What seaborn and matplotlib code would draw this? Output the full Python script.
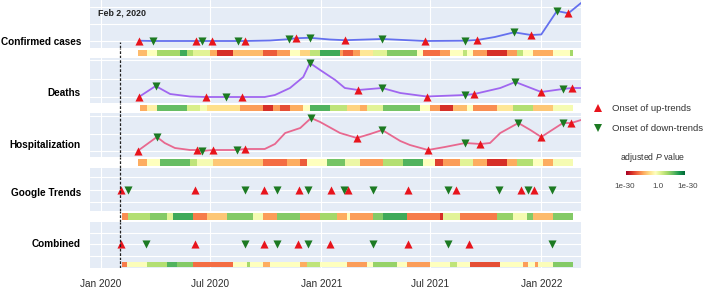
import matplotlib
matplotlib.use("Agg")
import matplotlib.dates as mdates
import matplotlib.pyplot as plt
from matplotlib.lines import Line2D
import numpy as np
import pandas as pd
import seaborn as sns

START = pd.Timestamp("2020-01-01")
ANCHOR_DAY = 32  # Feb 2, 2020
X_FROM, X_TO = -18, 797

# days since START (arbitrary panel units)
conf_days = [63, 86, 158, 168, 184, 228, 239, 281, 312, 324, 347, 380, 405, 467,
             538, 605, 625, 654, 686, 714, 731, 757, 776, 797]
conf_vals = [0.3, 0, 0, 0, 0, 0, 0, 0.5, 1.8, 2.8, 3.2, 1.5, 0.8, 2,
             0, 0.3, 1, 4, 8.7, 6, 6.5, 30, 27.7, 38]
conf_up = [63, 158, 184, 239, 324, 405, 538, 625, 714, 776]
conf_down = [86, 168, 228, 312, 347, 467, 605, 686, 757]

death_days = [63, 91, 115, 148, 174, 208, 234, 272, 289, 314, 336, 347, 364, 389,
              405, 427, 467, 497, 541, 605, 620, 663, 688, 731, 767, 782, 797]
death_vals = [0, 11, 3, 0.5, 0, 0, 0, 0, 2, 9, 20, 34, 27, 17,
              9, 7, 9, 4, 0.5, 2, 3, 9, 15, 5, 8, 9, 9]
death_up = [63, 174, 234, 427, 541, 620, 731, 782]
death_down = [91, 208, 347, 467, 605, 688, 767]

hosp_days = [61, 93, 106, 123, 148, 159, 168, 186, 226, 239, 272, 289, 306, 331,
             349, 364, 397, 425, 447, 467, 497, 513, 543, 571, 605, 630, 646, 663,
             693, 713, 731, 749, 767, 781, 797]
hosp_vals = [0, 14, 8, 3, 1, 1, 0, 1, 1, 2, 2, 7, 18, 23,
             33, 29, 18, 13, 17, 21, 10, 6, 1, 4, 8, 7, 8, 18,
             28, 21, 14, 21, 28, 28, 31]
hosp_up = [61, 159, 186, 239, 425, 543, 630, 731, 781]
hosp_down = [93, 168, 226, 349, 467, 605, 693, 767]

gt_up = [33, 156, 271, 329, 382, 410, 510, 590, 698, 719]
gt_down = [45, 239, 292, 344, 404, 452, 576, 661, 709, 749]

comb_up = [33, 156, 271, 327, 380, 510, 611]
comb_down = [75, 239, 292, 344, 452, 576, 749]

# heat strips: segment edges (days) and signed score (-1 = up-trend p 1e-30, 0 = p 1.0, 1 = down-trend p 1e-30)
conf_strip_edges = [61, 76, 93, 131, 143, 153, 181, 193, 219, 269, 292, 314, 331, 347, 364, 397,
                    402, 419, 430, 452, 475, 525, 535, 563, 580, 601, 608, 618, 641, 674, 691,
                    701, 718, 751, 779, 784]
conf_strip_scores = [-0.35, 0.0, 0.4, 0.7, 0.35, 0.15, -0.4, -0.8, -0.35, -0.65, -0.45, 0.0,
                     -0.25, 0.3, 0.7, -0.45, -0.65, -0.45, -0.15, 0.15, 0.5, 0.0, -0.6, -0.45,
                     0.0, 0.3, 0.0, -0.45, -0.8, -0.45, 0.3, 0.0, -0.4, 0.0, 0.4]

death_strip_edges = [65, 76, 93, 143, 164, 176, 231, 269, 286, 297, 314, 336, 347, 380, 409,
                     430, 442, 468, 530, 546, 563, 585, 608, 618, 658, 684, 718, 751, 784]
death_strip_scores = [-0.4, -0.1, 0.6, 0.2, 0.05, -0.2, -0.45, -0.8, -0.45, -0.7, -0.4, 0.0,
                      0.65, 0.3, -0.25, -0.4, 0.15, 0.55, 0.0, -0.45, -0.8, -0.35, 0.0, -0.5,
                      -0.15, 0.35, -0.3, 0.05]

hosp_strip_edges = [61, 76, 98, 148, 159, 186, 269, 309, 331, 342, 375, 405, 430, 468, 502,
                    535, 555, 568, 596, 618, 641, 674, 691, 718, 734, 751, 784]
hosp_strip_scores = [-0.4, 0.0, 0.6, 0.3, 0.05, -0.3, -0.6, -0.4, -0.65, 0.0, 0.55, 0.1,
                     -0.45, 0.35, 0.65, 0.0, -0.75, -0.45, 0.15, -0.4, -0.8, -0.4, 0.35, 0.0,
                     -0.4, 0.05]

gt_strip_edges = [35, 45, 81, 110, 120, 153, 176, 209, 252, 269, 292, 331, 364, 392, 409, 414,
                  452, 468, 508, 563, 568, 596, 658, 684, 708, 718, 751, 784]
gt_strip_scores = [-0.5, 0.35, 0.5, 0.15, 0.7, -0.55, -0.3, 0.5, 0.05, -0.45, 0.5, -0.45, 0.4,
                   -0.4, 0.0, -0.45, 0.5, 0.7, -0.55, -0.8, 0.15, -0.55, 0.45, 0.05, 0.5,
                   -0.35, 0.5]

comb_strip_edges = [35, 43, 76, 110, 126, 153, 219, 243, 247, 269, 281, 331, 342, 364, 409, 442,
                    452, 492, 508, 546, 580, 591, 613, 663, 701, 709, 721, 726, 751, 784]
comb_strip_scores = [-0.55, 0.02, 0.35, 0.65, 0.5, -0.6, 0.0, 0.4, 0.0, -0.4, 0.0, -0.4, 0.3,
                     0.0, -0.45, 0.0, 0.45, 0.0, -0.45, 0.0, 0.3, 0.0, -0.7, 0.0, -0.45, 0.0,
                     -0.45, 0.02, 0.5]

BG = "#e5ecf6"
UP_COLOR = "#e8141c"
DOWN_COLOR = "#1c7a22"
CMAP = "RdYlGn"
W, H = 708, 288


def to_dates(days):
  return START + pd.to_timedelta(np.asarray(days, dtype=float), unit="D")


def box(top, bottom, left=90, right=581):
  return [left / W, 1 - bottom / H, (right - left) / W, (bottom - top) / H]


def style_axes(ax, bg, grid=True):
  ax.set_facecolor(bg)
  for sp in ax.spines.values():
    sp.set_visible(False)
  ax.set_xlim(mdates.date2num(to_dates([X_FROM, X_TO])))
  ax.xaxis.set_major_locator(mdates.MonthLocator(bymonth=[1, 7]))
  ax.xaxis.set_major_formatter(mdates.DateFormatter("%b %Y"))
  ax.tick_params(length=0, labelbottom=False, labelleft=False)
  ax.set_xlabel("")
  ax.set_ylabel("")
  ax.grid(grid, color="white", linewidth=0.8)
  ax.set_axisbelow(True)


def draw_markers(ax, up, down, series=None):
  up_y = series.loc[up].values if series is not None else np.zeros(len(up))
  down_y = series.loc[down].values if series is not None else np.zeros(len(down))
  sns.scatterplot(x=to_dates(up), y=up_y, ax=ax, marker="^", s=34, color=UP_COLOR,
                  linewidth=0, zorder=4)
  sns.scatterplot(x=to_dates(down), y=down_y, ax=ax, marker="v", s=34, color=DOWN_COLOR,
                  linewidth=0, zorder=4)


def draw_strip(ax, edges, scores, y0, y1):
  x = mdates.date2num(to_dates(edges))
  ax.pcolormesh(x, [y0, y1], np.array([scores]), cmap=CMAP, vmin=-1, vmax=1,
                shading="flat", zorder=2)
  ax.set_ylim(0, 1)


sns.set_theme(style="darkgrid")
plt.rcParams["font.family"] = ["Liberation Sans", "DejaVu Sans"]
plt.rcParams["mathtext.fontset"] = "custom"
plt.rcParams["mathtext.it"] = "Liberation Sans:italic"
plt.rcParams["mathtext.rm"] = "Liberation Sans"

fig = plt.figure(figsize=(W / 100, H / 100), dpi=100)
fig.patch.set_facecolor("white")

panels = [
  # label, line box, strip box, ylim, ticks, label y, strip extent, strip bg
  ("Confirmed cases", (0, 48), (48, 58), (-7, 41), [0, 17, 34], 42, (0.2, 0.8), "white"),
  ("Deaths", (58, 103), (103, 113), (-6, 39), [0, 18.5, 37], 93, (0.2, 0.8), "white"),
  ("Hospitalization", (113, 157), (157, 168), (-6, 38), [0, 17.5, 35], 145, (0.18, 0.82), "white"),
  ("Google Trends", (168, 211), (211, 222), (-21, 22), [-12, 0, 13], 193, (0.18, 0.82), "white"),
  ("Combined", (222, 260), (260, 268), (-16, 22), [-12, 0, 11], 244, (0.12, 0.75), BG),
]
series_data = [
  (conf_days, conf_vals, conf_up, conf_down, "#6470ee", conf_strip_edges, conf_strip_scores),
  (death_days, death_vals, death_up, death_down, "#a066f0", death_strip_edges, death_strip_scores),
  (hosp_days, hosp_vals, hosp_up, hosp_down, "#e8688f", hosp_strip_edges, hosp_strip_scores),
  (None, None, gt_up, gt_down, None, gt_strip_edges, gt_strip_scores),
  (None, None, comb_up, comb_down, None, comb_strip_edges, comb_strip_scores),
]

anchor = mdates.date2num(to_dates([ANCHOR_DAY]))[0]
dash_kw = dict(color="#222222", linewidth=0.9, linestyle=(0, (2.2, 1.4)), zorder=5)

for i, (panel, data) in enumerate(zip(panels, series_data)):
  label, line_box, strip_box, ylim, ticks, label_y, extent, strip_bg = panel
  days, vals, up, down, color, s_edges, s_scores = data

  ax = fig.add_axes(box(*line_box))
  style_axes(ax, BG)
  series = None
  if days is not None:
    series = pd.Series(vals, index=days)
    sns.lineplot(x=to_dates(days), y=vals, ax=ax, color=color, linewidth=1.3, zorder=3)
  draw_markers(ax, up, down, series)
  style_axes(ax, BG)
  ax.set_ylim(*ylim)
  ax.set_yticks(ticks)
  if i == 0:
    top_frac = (line_box[1] - 42) / (line_box[1] - line_box[0])
    ax.axvline(anchor, ymin=0, ymax=top_frac, **dash_kw)
  else:
    ax.axvline(anchor, **dash_kw)

  sax = fig.add_axes(box(*strip_box))
  style_axes(sax, strip_bg, grid=(strip_bg != "white"))
  sax.grid(False, axis="y")
  draw_strip(sax, s_edges, s_scores, *extent)
  sax.axvline(anchor, **dash_kw)
  if i == len(panels) - 1:
    sax.tick_params(labelbottom=True, pad=8, labelsize=7.2, labelcolor="#2a2a2a")

  fig.text(81 / W, 1 - label_y / H, label, ha="right", va="center",
           fontsize=7.2, fontweight="bold", color="black")

fig.text(98 / W, 1 - 13 / H, "Feb 2, 2020", ha="left", va="center",
         fontsize=6.4, fontweight="bold", color="#222222")

handles = [
  Line2D([], [], marker="^", color=UP_COLOR, linestyle="none", markersize=5.2, markeredgewidth=0),
  Line2D([], [], marker="v", color=DOWN_COLOR, linestyle="none", markersize=5.2, markeredgewidth=0),
]
fig.legend(handles, ["Onset of up-trends", "Onset of down-trends"], loc="upper left",
           bbox_to_anchor=(593 / W, 1 - 104 / H), frameon=False, fontsize=6.8,
           handlelength=1.0, handletextpad=1.0, labelspacing=1.15, borderpad=0,
           borderaxespad=0, labelcolor="#333333")

fig.text(653 / W, 1 - 158 / H, r"adjusted $\mathit{P}$ value", ha="center", va="center",
         fontsize=6.2, color="#333333")
cax = fig.add_axes(box(171, 175, 626, 685))
cax.imshow(np.linspace(-1, 1, 256)[None, :], cmap=CMAP, aspect="auto")
cax.axis("off")
for x, t in [(625, "1e-30"), (658, "1.0"), (688, "1e-30")]:
  fig.text(x / W, 1 - 187 / H, t, ha="center", va="center", fontsize=5.8, color="#444444")

fig.savefig("out.png", dpi=100)
